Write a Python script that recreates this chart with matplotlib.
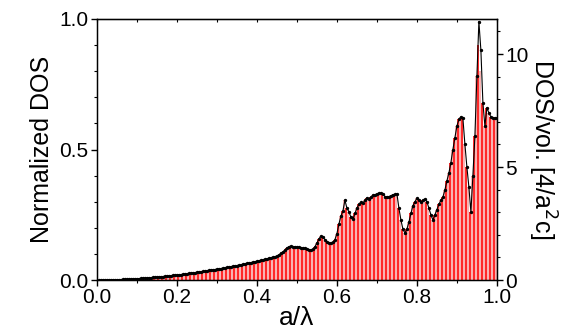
import numpy as np
import matplotlib
matplotlib.use("Agg")
import matplotlib.pyplot as plt
from matplotlib.ticker import MultipleLocator, FormatStrFormatter

plt.rcParams['font.family'] = ['Liberation Sans', 'DejaVu Sans']

# normalized frequency a/lambda, step 0.005 (bin upper edges 0.005 .. 1.000)
freq_step = 0.005
n_bins = 200

dos = [
    0.0001, 0.0002, 0.0003, 0.0004, 0.0005, 0.0007, 0.0009, 0.0011, 0.0013, 0.0015,
    0.0017, 0.0020, 0.0023, 0.0026, 0.0030, 0.0033, 0.0037, 0.0041, 0.0045, 0.0050,
    0.0055, 0.0060, 0.0066, 0.0072, 0.0078, 0.0085, 0.0092, 0.0099, 0.0106, 0.0113,
    0.0120, 0.0128, 0.0136, 0.0144, 0.0152, 0.0160, 0.0168, 0.0176, 0.0185, 0.0194,
    0.0203, 0.0212, 0.0222, 0.0232, 0.0242, 0.0252, 0.0262, 0.0273, 0.0284, 0.0295,
    0.0306, 0.0318, 0.0330, 0.0342, 0.0354, 0.0366, 0.0378, 0.0390, 0.0403, 0.0416,
    0.0429, 0.0442, 0.0456, 0.0470, 0.0484, 0.0498, 0.0512, 0.0527, 0.0542, 0.0557,
    0.0572, 0.0588, 0.0604, 0.0620, 0.0636, 0.0652, 0.0668, 0.0685, 0.0702, 0.0720,
    0.0738, 0.0756, 0.0775, 0.0794, 0.0814, 0.0834, 0.0855, 0.0876, 0.0898, 0.0920,
    0.097, 0.102, 0.108, 0.115, 0.123, 0.128, 0.130, 0.127, 0.128, 0.126,
    0.125, 0.123, 0.122, 0.121, 0.120, 0.116, 0.114, 0.118, 0.128, 0.142,
    0.158, 0.168, 0.164, 0.155, 0.146, 0.142, 0.141, 0.144, 0.155, 0.178,
    0.215, 0.245, 0.265, 0.306, 0.275, 0.262, 0.240, 0.233, 0.255, 0.276,
    0.290, 0.298, 0.295, 0.305, 0.315, 0.312, 0.318, 0.325, 0.327, 0.330,
    0.333, 0.332, 0.328, 0.320, 0.318, 0.320, 0.323, 0.327, 0.328, 0.330,
    0.275, 0.230, 0.195, 0.180, 0.195, 0.222, 0.255, 0.285, 0.300, 0.313,
    0.305, 0.300, 0.305, 0.310, 0.300, 0.275, 0.250, 0.230, 0.250, 0.270,
    0.290, 0.305, 0.318, 0.345, 0.380, 0.410, 0.450, 0.500, 0.544, 0.590,
    0.615, 0.625, 0.620, 0.520, 0.433, 0.356, 0.260, 0.400, 0.550, 0.780,
    0.990, 0.880, 0.680, 0.590, 0.660, 0.640, 0.625, 0.620, 0.620, 0.620,
]

# histogram bars (close to the curve but slightly lower at the sharp peak)
bar_dos = list(dos)
bar_dos[190] = 0.90
bar_dos[191] = 0.80

right_scale = 11.55  # DOS/vol. [4/a^2c] corresponding to normalized DOS = 1

freq = (np.arange(n_bins) + 1) * freq_step
bar_colors = ['#ff2a2a' if i % 2 == 0 else '#f9b4b4' for i in range(n_bins)]

fig = plt.figure(figsize=(5.64, 3.33), dpi=100)
ax = fig.add_axes([0.172, 0.159, 0.709, 0.784])

ax.bar(freq - freq_step / 2, bar_dos, width=freq_step, color=bar_colors,
       linewidth=0, zorder=1)
ax.plot(freq, dos, color='black', linewidth=0.8, marker='o', markersize=1.4,
        zorder=3)

ax.set_xlim(0, 1.0)
ax.set_ylim(0, 1.0)
ax.xaxis.set_major_locator(MultipleLocator(0.2))
ax.xaxis.set_minor_locator(MultipleLocator(0.1))
ax.yaxis.set_major_locator(MultipleLocator(0.5))
ax.yaxis.set_minor_locator(MultipleLocator(0.1))
ax.tick_params(axis='both', which='major', direction='out', length=4,
               width=1, labelsize=15, pad=2)
ax.tick_params(axis='both', which='minor', direction='out', length=2.5, width=0.8)
ax.yaxis.set_major_formatter(FormatStrFormatter('%.1f'))
ax.xaxis.set_major_formatter(FormatStrFormatter('%.1f'))

ax.set_xlabel('a/\u03bb', fontsize=19, labelpad=-1)
ax.set_ylabel('Normalized DOS', fontsize=18, labelpad=4)

for s in ax.spines.values():
    s.set_linewidth(1.0)

# top axis: inward ticks, no labels
axt = ax.secondary_xaxis('top')
axt.xaxis.set_major_locator(MultipleLocator(0.1))
axt.tick_params(axis='x', which='major', direction='in', length=2.5, width=0.8,
                labeltop=False)

ax2 = ax.twinx()
ax2.set_ylim(0, right_scale)
ax2.yaxis.set_major_locator(MultipleLocator(5))
ax2.yaxis.set_minor_locator(MultipleLocator(1))
ax2.tick_params(axis='y', which='major', direction='out', length=4, width=1,
                labelsize=15, pad=2)
ax2.tick_params(axis='y', which='minor', direction='out', length=2.5, width=0.8)
ax2.set_ylabel('DOS/vol. [4/a$^2$c]', fontsize=18, rotation=270, labelpad=21)

fig.savefig('out.png', dpi=100)
